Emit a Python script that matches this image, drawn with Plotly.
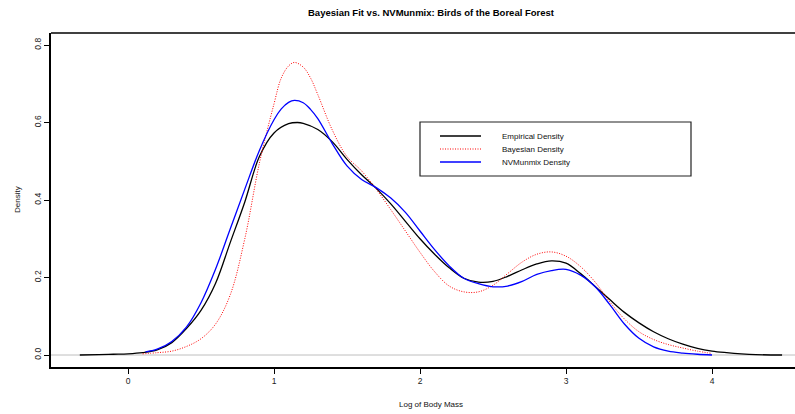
import plotly.graph_objects as go

# ---- data ----
emp_x = [-0.33, -0.2, -0.1, 0.0, 0.1, 0.2, 0.3, 0.4, 0.5, 0.6, 0.7, 0.8, 0.9, 1.0, 1.1, 1.16,
         1.2, 1.3, 1.4, 1.5, 1.6, 1.7, 1.8, 1.9, 2.0, 2.1, 2.2, 2.3, 2.4, 2.5, 2.6, 2.7, 2.8,
         2.9, 3.0, 3.1, 3.2, 3.3, 3.4, 3.5, 3.6, 3.7, 3.8, 3.9, 4.0, 4.1, 4.2, 4.3, 4.48]
emp_y = [0.000, 0.001, 0.002, 0.003, 0.006, 0.013, 0.032, 0.068, 0.115, 0.185, 0.290, 0.395,
         0.512, 0.573, 0.597, 0.600, 0.598, 0.582, 0.550, 0.505, 0.465, 0.430, 0.390, 0.345,
         0.300, 0.260, 0.225, 0.198, 0.188, 0.190, 0.203, 0.220, 0.235, 0.243, 0.237, 0.210,
         0.177, 0.143, 0.110, 0.083, 0.060, 0.042, 0.028, 0.017, 0.010, 0.006, 0.003, 0.001,
         0.000]

bay_x = [0.1, 0.2, 0.3, 0.4, 0.5, 0.6, 0.7, 0.8, 0.9, 1.0, 1.05, 1.1, 1.14, 1.2, 1.25, 1.3,
         1.4, 1.5, 1.6, 1.7, 1.8, 1.9, 2.0, 2.1, 2.2, 2.3, 2.4, 2.5, 2.6, 2.7, 2.8, 2.9, 3.0,
         3.1, 3.2, 3.3, 3.4, 3.5, 3.6, 3.7, 3.8, 3.9, 4.0]
bay_y = [0.003, 0.006, 0.010, 0.022, 0.042, 0.080, 0.155, 0.300, 0.495, 0.648, 0.715, 0.746,
         0.755, 0.743, 0.715, 0.672, 0.580, 0.512, 0.475, 0.428, 0.375, 0.320, 0.265, 0.215,
         0.178, 0.163, 0.163, 0.180, 0.210, 0.240, 0.260, 0.266, 0.255, 0.228, 0.188, 0.137,
         0.093, 0.060, 0.040, 0.027, 0.018, 0.010, 0.004]

nvm_x = [0.12, 0.2, 0.3, 0.4, 0.5, 0.6, 0.7, 0.8, 0.9, 1.0, 1.05, 1.1, 1.14, 1.2, 1.25, 1.3,
         1.4, 1.5, 1.6, 1.7, 1.8, 1.9, 2.0, 2.1, 2.2, 2.3, 2.4, 2.5, 2.6, 2.7, 2.8, 2.9, 3.0,
         3.1, 3.2, 3.3, 3.4, 3.5, 3.6, 3.7, 3.8, 3.9, 4.0]
nvm_y = [0.008, 0.015, 0.035, 0.072, 0.135, 0.222, 0.325, 0.428, 0.528, 0.607, 0.635, 0.652,
         0.657, 0.651, 0.634, 0.610, 0.545, 0.488, 0.453, 0.432, 0.405, 0.368, 0.320, 0.272,
         0.230, 0.198, 0.184, 0.176, 0.178, 0.190, 0.208, 0.218, 0.221, 0.206, 0.176, 0.130,
         0.080, 0.043, 0.021, 0.010, 0.005, 0.002, 0.000]

x_ticks = [0, 1, 2, 3, 4]
y_ticks = [0.0, 0.2, 0.4, 0.6, 0.8]
y_tick_labels = ["0.0", "0.2", "0.4", "0.6", "0.8"]

series_names = ["Empirical Density", "Bayesian Density", "NVMunmix Density"]
series_colors = ["#000000", "#ff0000", "#0000ff"]
series_dash = ["solid", "1px,1.5px", "solid"]
series_width = [1.3, 1.0, 1.3]

title_text = "Bayesian Fit vs. NVMunmix: Birds of the Boreal Forest"
x_title = "Log of Body Mass"
y_title = "Density"

FONT = "Liberation Sans, Arial, Helvetica, sans-serif"

fig = go.Figure()
for xs, ys, name, col, dash, w in zip([emp_x, bay_x, nvm_x], [emp_y, bay_y, nvm_y],
                                      series_names, series_colors, series_dash, series_width):
    fig.add_trace(go.Scatter(x=xs, y=ys, mode="lines", name=name, showlegend=False,
                             line=dict(color=col, dash=dash, width=w, shape="spline", smoothing=1.0)))

W, H = 795, 414
ml, mt, mb, mr = 51, 33, 47, 0
pw, ph = W - ml - mr, H - mt - mb

def px2paper(px, py):
    return (px - ml) / pw, (H - mb - py) / ph

shapes = []
# zero reference line (gray)
shapes.append(dict(type="line", xref="paper", yref="y", x0=0, x1=1, y0=0, y1=0,
                   line=dict(color="#bebebe", width=1), layer="below"))
# top border of the box
shapes.append(dict(type="line", xref="paper", yref="paper", x0=0, x1=1, y0=1, y1=1,
                   line=dict(color="#000000", width=1.5)))

# manual legend (R style)
lx0, ly0 = px2paper(420, 122)
lx1, ly1 = px2paper(691, 176)
shapes.append(dict(type="rect", xref="paper", yref="paper", x0=lx0, x1=lx1, y0=ly1, y1=ly0,
                   line=dict(color="#222222", width=1.2), fillcolor="rgba(255,255,255,1)"))
annotations = []
row_py = [136, 149, 162]
for i, name in enumerate(series_names):
    sx0, sy = px2paper(440, row_py[i])
    sx1, _ = px2paper(481, row_py[i])
    shapes.append(dict(type="line", xref="paper", yref="paper", x0=sx0, x1=sx1, y0=sy, y1=sy,
                       line=dict(color=series_colors[i], width=series_width[i], dash=series_dash[i])))
    tx, _ = px2paper(500, row_py[i])
    annotations.append(dict(text=name, xref="paper", yref="paper", x=tx, y=sy, xanchor="left",
                            yanchor="middle", showarrow=False,
                            font=dict(family=FONT, size=8, color="#111111")))

# title and axis titles
tx, ty = px2paper(431, 12)
annotations.append(dict(text="<b>" + title_text + "</b>", xref="paper", yref="paper", x=tx, y=ty,
                        xanchor="center", yanchor="middle", showarrow=False,
                        font=dict(family=FONT, size=9.5, color="#000000")))
tx, ty = px2paper(431, 405)
annotations.append(dict(text=x_title, xref="paper", yref="paper", x=tx, y=ty,
                        xanchor="center", yanchor="middle", showarrow=False,
                        font=dict(family=FONT, size=8, color="#111111")))
tx, ty = px2paper(17, 200)
annotations.append(dict(text=y_title, xref="paper", yref="paper", x=tx, y=ty, textangle=-90,
                        xanchor="center", yanchor="middle", showarrow=False,
                        font=dict(family=FONT, size=8, color="#111111")))

fig.update_layout(
    width=W, height=H,
    margin=dict(l=ml, r=mr, t=mt, b=mb, pad=0),
    paper_bgcolor="white", plot_bgcolor="white",
    showlegend=False,
    shapes=shapes, annotations=annotations,
    font=dict(family=FONT, size=8, color="#111111"),
)
fig.update_xaxes(range=[(51 - 128) / 146, (795 - 128) / 146], tickvals=x_ticks,
                 ticks="outside", ticklen=5, tickwidth=1, tickcolor="#000000",
                 showline=True, linecolor="#000000", linewidth=1.5, mirror=False,
                 showgrid=False, zeroline=False, tickfont=dict(family=FONT, size=8.5, color="#222222"))
fig.update_yaxes(range=[-12 / 387.5, 322 / 387.5], tickvals=y_ticks, ticktext=y_tick_labels,
                 tickangle=-90, ticks="outside", ticklen=5, tickwidth=1, tickcolor="#000000",
                 showline=True, linecolor="#000000", linewidth=1.5, mirror=False,
                 showgrid=False, zeroline=False, tickfont=dict(family=FONT, size=8.5, color="#222222"))

fig.write_html("out.html")
